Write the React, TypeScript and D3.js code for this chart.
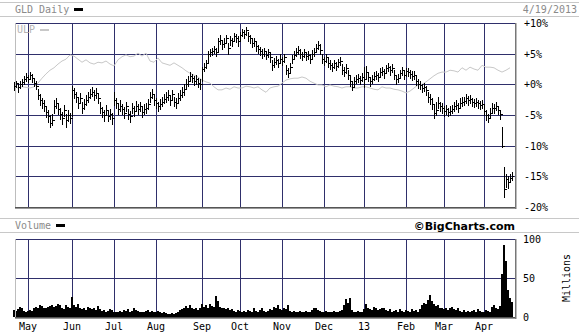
import React from "react";
import * as d3 from "d3";

// ---- Data (percent change vs. start, GLD daily) ----
const monthIdx = [8, 30, 51, 72, 95, 114, 135, 156, 176, 197, 216, 236];
const monthLabels = ["May", "Jun", "Jul", "Aug", "Sep", "Oct", "Nov", "Dec", "13", "Feb", "Mar", "Apr"];
const priceTicks = [10, 5, 0, -5, -10, -15, -20];
const priceTickLabels = ["+10%", "+5%", "+0%", "-5%", "-10%", "-15%", "-20%"];
const volTicks = [100, 50, 0];

const closes = [
  -0.3, 0.2, -0.5, 0.0, 0.3, 0.8, 1.2, 0.9, 1.5, 1.0,
  0.2, -0.2, -1.8, -2.5, -3.0, -3.5, -4.5, -5.2, -6.3, -5.8,
  -3.5, -3.0, -4.0, -4.8, -5.5, -4.2, -5.8, -5.0, -5.5, -1.0,
  -1.5, -2.0, -3.0, -2.2, -3.8, -3.2, -2.5, -2.0, -1.5, -1.2,
  -1.8, -1.4, -2.2, -3.8, -4.5, -5.0, -4.2, -5.2, -4.8, -5.5,
  -2.5, -3.0, -4.0, -3.5, -4.0, -4.6, -3.6, -4.8, -5.2, -3.8,
  -4.4, -3.5, -4.0, -3.6, -4.5, -4.0, -3.8, -3.2, -2.0, -1.5,
  -2.6, -3.0, -3.6, -3.2, -2.8, -2.4, -2.0, -1.8, -2.5, -1.6,
  -2.8, -3.0, -2.2, -1.8, -1.3, -0.8, 0.0, 0.6, 1.3, 1.0,
  0.6, 0.8, 0.2, 0.0, 2.5, 2.8, 3.5, 5.0, 5.2, 5.4,
  5.8, 5.2, 7.0, 7.3, 6.5, 6.8, 7.5, 6.0, 7.2, 7.0,
  7.8, 7.6, 7.0, 8.0, 8.5, 8.2, 8.8, 7.8, 7.5, 6.8,
  7.0, 6.2, 5.8, 5.5, 5.0, 5.4, 4.8, 5.2, 4.5, 3.2,
  3.6, 4.0, 3.5, 4.2, 3.8, 4.4, 2.4, 1.8, 2.8, 4.2,
  4.8, 5.3, 5.6, 5.0, 4.6, 5.2, 4.6, 4.8, 4.2, 5.0,
  5.3, 6.0, 6.4, 5.6, 4.2, 3.8, 4.4, 3.5, 3.2, 2.8,
  3.4, 3.0, 3.6, 3.8, 2.4, 2.0, 2.6, 1.6, 0.5, -0.4,
  0.6, 0.9, 1.1, 0.7, 1.2, 0.8, 2.0, 1.2, 0.5, 0.9,
  1.4, 1.6, 1.2, 2.0, 2.2, 1.8, 2.6, 2.9, 2.3, 2.7,
  1.5, 0.8, 1.0, 1.8, 2.3, 1.6, 2.1, 2.0, 1.7, 1.4,
  1.6, 0.6, 0.1, -0.1, -0.6, -0.4, -1.0, -2.0, -2.4, -3.2,
  -4.6, -4.2, -3.0, -3.6, -3.8, -4.4, -4.1, -4.5, -4.3, -4.0,
  -3.6, -3.3, -3.8, -3.0, -2.8, -2.7, -2.3, -2.6, -2.4, -2.9,
  -3.0, -2.9, -3.1, -3.3, -3.2, -4.3, -5.0, -5.5, -4.6, -3.8,
  -3.9, -3.5, -4.2, -4.9, -10.0, -17.0, -15.5, -16.0, -15.3, -14.9,
];

const highs = [
  0.3, 0.6, 0.2, 0.5, 0.8, 1.3, 1.8, 1.5, 2.0, 1.7,
  1.0, 0.5, -0.8, -1.6, -2.2, -2.6, -3.6, -4.2, -5.0, -4.9,
  -2.6, -2.2, -3.0, -3.9, -4.5, -3.4, -4.8, -4.2, -4.6, -0.3,
  -0.6, -1.2, -2.0, -1.4, -2.9, -2.4, -1.7, -1.2, -0.8, -0.4,
  -1.0, -0.6, -1.4, -2.9, -3.7, -4.2, -3.4, -4.3, -4.0, -4.6,
  -1.2, -2.2, -3.2, -2.6, -3.2, -3.7, -2.8, -4.0, -4.3, -3.0,
  -3.6, -2.7, -3.2, -2.8, -3.7, -3.2, -3.0, -2.4, -1.2, -0.8,
  -1.7, -2.2, -2.8, -2.4, -2.0, -1.6, -1.3, -1.0, -1.7, -0.9,
  -2.0, -2.2, -1.4, -1.0, -0.5, 0.0, 0.8, 1.4, 2.0, 1.7,
  1.4, 1.5, 1.0, 0.8, 2.9, 3.4, 4.0, 5.5, 5.8, 6.0,
  6.3, 6.0, 7.6, 8.0, 7.2, 7.5, 8.1, 6.8, 7.8, 7.6,
  8.4, 8.2, 7.8, 8.6, 9.0, 8.8, 9.3, 8.5, 8.1, 7.5,
  7.6, 6.9, 6.4, 6.1, 5.7, 6.0, 5.5, 5.8, 5.2, 4.0,
  4.3, 4.7, 4.2, 4.9, 4.5, 5.0, 3.2, 2.6, 3.5, 4.8,
  5.4, 5.9, 6.2, 5.7, 5.3, 5.8, 5.3, 5.5, 4.9, 5.6,
  5.9, 6.6, 7.0, 6.5, 5.0, 4.5, 5.0, 4.3, 3.9, 3.5,
  4.0, 3.7, 4.2, 4.4, 3.3, 2.8, 3.3, 2.4, 1.4, 0.5,
  1.2, 1.5, 1.7, 1.4, 1.8, 2.9, 3.0, 2.0, 1.2, 1.6,
  2.0, 2.2, 1.9, 2.6, 2.8, 2.5, 3.2, 3.4, 3.0, 3.3,
  2.3, 1.5, 1.7, 2.4, 2.9, 2.3, 2.7, 2.6, 2.4, 2.1,
  2.2, 1.3, 0.8, 0.6, 0.1, 0.2, -0.3, -1.2, -1.6, -2.3,
  -3.4, -2.9, -2.0, -2.8, -3.0, -3.6, -3.4, -3.8, -3.6, -3.3,
  -2.9, -2.6, -3.1, -2.3, -2.1, -2.0, -1.6, -1.9, -1.7, -2.2,
  -2.4, -2.3, -2.5, -2.7, -2.6, -3.2, -4.2, -4.8, -3.9, -3.0,
  -3.2, -2.8, -3.5, -4.2, -6.9, -13.5, -14.6, -15.0, -14.6, -14.3,
];

const lows = [
  -0.9, -0.4, -1.2, -0.6, -0.3, 0.1, 0.5, 0.3, 0.8, 0.4,
  -0.3, -0.8, -2.4, -3.4, -3.8, -4.3, -5.3, -6.2, -7.0, -6.6,
  -4.6, -3.8, -4.8, -5.6, -6.4, -5.1, -7.0, -5.9, -6.3, -5.2,
  -2.3, -2.9, -3.8, -3.1, -4.6, -4.0, -3.3, -2.8, -2.2, -1.9,
  -2.6, -2.2, -3.1, -4.6, -5.3, -5.9, -5.0, -6.0, -5.6, -6.5,
  -3.3, -3.8, -4.8, -4.3, -4.8, -5.5, -4.4, -5.6, -6.1, -4.6,
  -5.2, -4.3, -4.8, -4.4, -5.3, -4.8, -4.6, -4.0, -2.9, -2.3,
  -3.4, -3.8, -4.4, -4.0, -3.6, -3.1, -2.8, -2.6, -3.3, -2.4,
  -3.6, -3.8, -3.0, -2.6, -2.1, -1.7, -0.8, -0.2, 0.5, 0.3,
  -0.1, 0.1, -0.5, -0.7, 0.6, 2.2, 2.7, 3.6, 4.6, 4.8,
  5.1, 4.6, 5.2, 6.6, 5.8, 6.1, 6.8, 4.9, 6.4, 6.3,
  7.1, 6.9, 6.3, 7.3, 7.8, 7.6, 8.1, 7.1, 6.8, 6.1,
  6.3, 5.5, 5.1, 4.8, 4.3, 4.7, 4.1, 4.5, 3.7, 2.4,
  2.9, 3.3, 2.8, 3.5, 3.1, 3.7, 1.7, 1.2, 2.0, 3.4,
  4.1, 4.6, 4.9, 4.3, 3.9, 4.5, 3.9, 4.1, 3.5, 4.3,
  4.6, 5.3, 5.7, 4.9, 3.5, 3.1, 3.7, 2.8, 2.5, 2.1,
  2.7, 2.3, 2.9, 3.1, 1.7, 1.3, 1.9, 0.8, -0.3, -1.0,
  -0.2, 0.2, 0.4, 0.0, 0.5, -0.4, 0.8, 0.5, -0.2, 0.2,
  0.7, 0.9, 0.5, 1.3, 1.5, 1.1, 1.9, 2.2, 1.6, 2.0,
  0.8, 0.1, 0.3, 1.1, 1.6, 0.9, 1.4, 1.3, 1.0, 0.7,
  0.9, -0.1, -0.6, -0.8, -1.3, -1.1, -1.7, -2.8, -3.2, -4.1,
  -5.5, -5.0, -3.8, -4.4, -4.6, -5.2, -4.8, -5.2, -5.0, -4.7,
  -4.3, -4.0, -4.5, -3.7, -3.5, -3.4, -3.0, -3.3, -3.1, -3.6,
  -3.7, -3.6, -3.8, -4.0, -3.9, -5.0, -5.8, -6.2, -5.3, -4.5,
  -4.6, -4.2, -4.9, -5.6, -10.2, -18.4, -16.8, -16.9, -16.0, -15.6,
];

// ULP relative line, one value every second trading day (percent)
const ulp = [
  -0.4, -0.6, -0.4, -0.5, -0.6, -0.4, 0.2, 1.0, 1.7, 2.3,
  2.7, 3.3, 3.8, 4.1, 4.8, 4.6, 4.1, 3.6, 4.0, 3.5,
  3.3, 3.6, 3.5, 3.8, 3.3, 3.0, 4.0, 4.5, 4.8, 4.5,
  4.6, 5.1, 4.6, 5.1, 3.8, 3.6, 4.3, 3.5, 3.3, 3.1,
  3.5, 3.1, 2.7, 2.2, 1.8, 1.5, 1.2, 0.7, 0.4, 0.2,
  -0.4, -0.9, -0.9, -0.6, -0.8, -0.4, -0.6, -0.6, -0.3, -0.4,
  -0.6, -0.4, -0.9, -1.3, -0.6, -0.4, -0.3, 0.2, 0.7, 0.9,
  1.0, 1.0, 1.2, 1.0, 0.5, 0.2, -0.1, -0.1, -0.4, -0.1,
  -0.3, -0.4, -0.6, -0.4, -0.4, -0.6, -0.6, -0.4, -0.4, -0.6,
  -0.8, -0.9, -0.4, -0.6, -0.6, -0.8, -0.9, -1.1, -1.4, -1.1,
  -0.6, -0.1, 0.0, 0.4, 0.9, 1.4, 1.8, 2.0, 2.0, 2.3,
  2.2, 2.0, 2.7, 2.3, 2.8, 2.5, 2.3, 3.1, 2.8, 2.8,
  2.7, 2.3, 2.0, 2.3, 2.7,
];

// Volume, millions of shares
const volume = [
  9, 8, 10, 13, 11, 8, 7, 8, 9, 8,
  12, 13, 11, 15, 14, 12, 11, 13, 14, 15,
  13, 14, 17, 16, 12, 10, 15, 13, 12, 26,
  15, 13, 17, 12, 10, 11, 9, 13, 11, 10,
  12, 9, 14, 10, 8, 9, 7, 8, 10, 9,
  6, 7, 6, 8, 7, 9, 8, 10, 7, 8,
  12, 9, 8, 7, 6, 7, 8, 9, 7, 8,
  6, 7, 8, 6, 5, 6, 5, 4, 4, 5,
  4, 5, 6, 9, 10, 12, 14, 11, 15, 12,
  10, 11, 9, 12, 17, 13, 15, 12, 17, 14,
  13, 27, 20, 13, 11, 12, 10, 11, 9, 10,
  8, 7, 9, 8, 6, 8, 7, 9, 8, 7,
  11, 8, 7, 9, 12, 8, 7, 8, 10, 9,
  13, 11, 15, 10, 9, 12, 10, 15, 8, 7,
  8, 7, 6, 8, 7, 6, 8, 7, 6, 9,
  11, 12, 9, 8, 7, 6, 8, 7, 6, 7,
  8, 7, 6, 8, 9, 15, 23, 18, 24, 9,
  7, 6, 8, 7, 6, 10, 17, 12, 10, 9,
  13, 11, 9, 10, 12, 11, 9, 8, 10, 7,
  8, 9, 7, 10, 8, 6, 9, 8, 7, 10,
  8, 9, 7, 10, 15, 18, 17, 22, 28, 20,
  17, 14, 16, 12, 11, 10, 12, 9, 11, 13,
  10, 9, 11, 8, 7, 9, 6, 8, 7, 8,
  9, 7, 10, 8, 7, 6, 9, 8, 7, 13,
  15, 12, 10, 14, 55, 92, 72, 35, 24, 19,
];

const W = 579;
const H = 335;
const GRID = "#2f2f6b";
const MONO = "'DejaVu Sans Mono', 'Liberation Mono', monospace";

export default function App() {
  const x = d3.scaleLinear().domain([0, 250]).range([12, 512]);
  const yP = d3.scaleLinear().domain([-20, 10]).range([207, 23]);
  const yV = d3.scaleLinear().domain([0, 100]).range([317, 239]);
  const L = 15;
  const R = 515;

  const px = (i: number) => Math.round(x(i + 1)) + 0.5;
  const opens = closes.map((c, i) => (i === 0 ? c : closes[i - 1]));

  const ulpLine = d3
    .line<number>()
    .x((_, k) => x(1 + 2 * k))
    .y((v) => yP(v));

  return (
    <svg
      width={W}
      height={H}
      style={{ position: "absolute", left: 0, top: 0, background: "#fff" }}
      shapeRendering="crispEdges"
    >
      <rect x={0} y={0} width={W} height={H} fill="#fff" />
      {/* header band */}
      <line x1={0} x2={W} y1={2.5} y2={2.5} stroke="#c8c8c8" />
      <line x1={0} x2={W} y1={16.5} y2={16.5} stroke="#c8c8c8" />
      <text x={15} y={13} fontFamily={MONO} fontSize={10} fill="#8a8a8a">GLD Daily</text>
      <rect x={74} y={8} width={9} height={3} fill="#000" />
      <text x={577} y={13} fontFamily={MONO} fontSize={10} fill="#8a8a8a" textAnchor="end">4/19/2013</text>

      {/* price grid */}
      {monthIdx.map((m, j) => (
        <line key={"vg" + j} x1={Math.round(x(m)) + 0.5} x2={Math.round(x(m)) + 0.5} y1={23} y2={207} stroke={GRID} />
      ))}
      {priceTicks.map((t, j) => (
        <line key={"hg" + j} x1={L} x2={R} y1={Math.round(yP(t)) + 0.5} y2={Math.round(yP(t)) + 0.5} stroke={GRID} />
      ))}
      <line x1={L + 0.5} x2={L + 0.5} y1={23} y2={208} stroke="#bdbdbd" />
      <line x1={L} x2={R + 2} y1={207.5} y2={207.5} stroke="#555" />
      <line x1={L} x2={R + 2} y1={208.5} y2={208.5} stroke="#999" />
      <line x1={R + 0.5} x2={R + 0.5} y1={23} y2={209} stroke="#777" />
      <line x1={R + 1.5} x2={R + 1.5} y1={23} y2={209} stroke="#bbb" />

      {priceTicks.map((t, j) => (
        <text key={"pl" + j} x={524} y={yP(t) + 4} fontFamily={MONO} fontSize={10} fill="#000">
          {priceTickLabels[j]}
        </text>
      ))}

      {/* ULP line */}
      <path d={ulpLine(ulp) || ""} fill="none" stroke="#c8c8c8" strokeWidth={1} shapeRendering="auto" />
      <text x={17} y={33} fontFamily={MONO} fontSize={10} fill="#b4b4b4">ULP</text>
      <rect x={40} y={29} width={9} height={2} fill="#c8c8c8" />

      {/* OHLC bars */}
      {closes.map((c, i) => {
        const cx = px(i);
        const yh = Math.round(yP(highs[i]));
        const yl = Math.round(yP(lows[i]));
        const yo = Math.round(yP(opens[i])) + 0.5;
        const yc = Math.round(yP(c)) + 0.5;
        return (
          <g key={"b" + i} stroke="#000">
            <line x1={cx} x2={cx} y1={yh} y2={Math.max(yl, yh + 1) + 1} />
            <line x1={cx - 1} x2={cx} y1={yo} y2={yo} />
            <line x1={cx} x2={cx + 1} y1={yc} y2={yc} />
          </g>
        );
      })}

      {/* volume band */}
      <line x1={0} x2={W} y1={218.5} y2={218.5} stroke="#c8c8c8" />
      <line x1={0} x2={W} y1={232.5} y2={232.5} stroke="#c8c8c8" />
      <text x={15} y={229} fontFamily={MONO} fontSize={10} fill="#8a8a8a">Volume</text>
      <rect x={56} y={224} width={9} height={3} fill="#000" />
      <text x={515} y={230} fontFamily="'DejaVu Sans', Verdana, sans-serif" fontWeight="bold" fontSize={11} fill="#000" textAnchor="end">©BigCharts.com</text>

      {/* volume grid */}
      {monthIdx.map((m, j) => (
        <line key={"vv" + j} x1={Math.round(x(m)) + 0.5} x2={Math.round(x(m)) + 0.5} y1={239} y2={317} stroke={GRID} />
      ))}
      {volTicks.slice(0, 2).map((t, j) => (
        <line key={"vh" + j} x1={L} x2={R} y1={Math.round(yV(t)) + 0.5} y2={Math.round(yV(t)) + 0.5} stroke={GRID} />
      ))}

      {/* volume bars */}
      {volume.map((v, i) => {
        const x0 = Math.round(x(i + 1)) - 1;
        const y0 = Math.round(yV(v));
        return <rect key={"v" + i} x={x0} y={y0} width={2} height={317 - y0} fill="#000" />;
      })}

      <line x1={L + 0.5} x2={L + 0.5} y1={239} y2={318} stroke="#bdbdbd" />
      <line x1={L} x2={R + 2} y1={317.5} y2={317.5} stroke="#555" />
      <line x1={L} x2={R + 2} y1={318.5} y2={318.5} stroke="#999" />
      <line x1={R + 0.5} x2={R + 0.5} y1={239} y2={319} stroke="#777" />
      <line x1={R + 1.5} x2={R + 1.5} y1={239} y2={319} stroke="#bbb" />

      {volTicks.map((t, j) => (
        <text key={"vl" + j} x={523} y={yV(t) + 4} fontFamily={MONO} fontSize={10} fill="#000">{t}</text>
      ))}
      <text
        transform={`translate(570, 278) rotate(-90)`}
        textAnchor="middle"
        fontFamily={MONO}
        fontSize={10}
        fill="#000"
      >
        Millions
      </text>

      {monthIdx.map((m, j) => (
        <text key={"ml" + j} x={x(m)} y={330} textAnchor="middle" fontFamily={MONO} fontSize={10} fill="#000">
          {monthLabels[j]}
        </text>
      ))}
    </svg>
  );
}
